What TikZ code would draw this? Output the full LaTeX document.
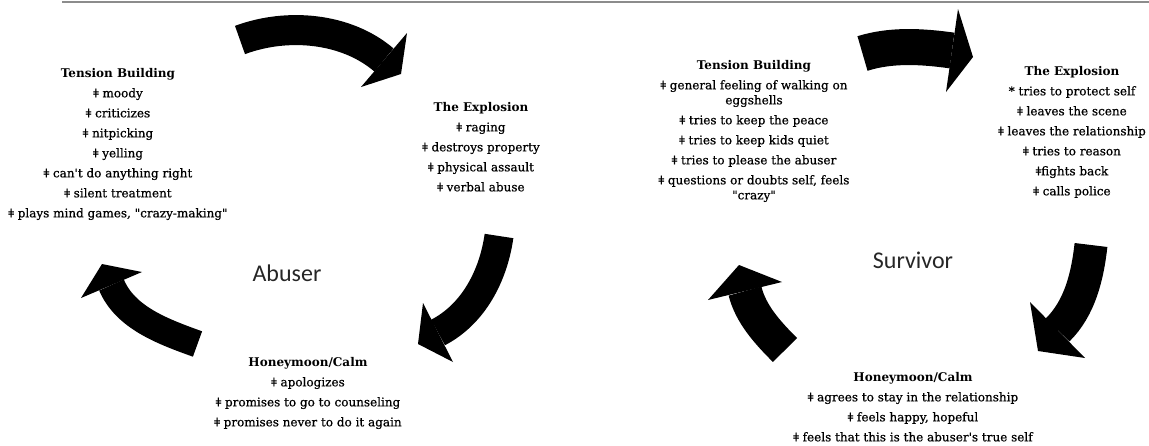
\documentclass[tikz,border=0pt]{standalone}
\usepackage{fontspec}
\setmainfont{DejaVu Serif}[UprightFeatures={FakeBold=0.6}]
\newfontfamily\labelfont{Carlito}
\newcommand{\blt}{ǂ }
\newcommand{\dq}{\textquotedbl}
\newcommand{\sq}{\textquotesingle}
\tikzset{
  stage/.style={align=center, inner sep=0pt, anchor=north, text=black,
    font=\fontsize{12}{15}\selectfont},
  cyclelabel/.style={inner sep=0pt, text=black!85, font=\labelfont\fontsize{24}{28}\selectfont},
  shaft/.style={line width=#1, line cap=butt, draw=black},
  head/.style={fill=black},
  topline/.style={draw=black!45, line width=2pt}
}
\begin{document}
\begin{tikzpicture}[x=1pt,y=-1pt]
\useasboundingbox (0,0) rectangle (1149,445);
\coordinate (lineL) at (62,1.5);
\coordinate (lineR) at (1149,1.5);
\draw[topline] (lineL) -- (lineR);

% ---------------- Abuser cycle ----------------
\node[stage] (abTB) at (118,68) {\textbf{Tension Building}\\[5pt]
  \blt moody\\[5pt] \blt criticizes\\[5pt] \blt nitpicking\\[5pt] \blt yelling\\[5pt]
  \blt can\sq t do anything right\\[5pt] \blt silent treatment\\[5pt]
  \blt plays mind games, \dq crazy-making\dq};
\node[stage] (abEX) at (481,102) {\textbf{The Explosion}\\[5pt]
  \blt raging\\[5pt] \blt destroys property\\[5pt] \blt physical assault\\[5pt] \blt verbal abuse};
\node[stage] (abHM) at (308,357) {\textbf{Honeymoon/Calm}\\[5pt]
  \blt apologizes\\[5pt] \blt promises to go to counseling\\[5pt] \blt promises never to do it again};
\node[cyclelabel] (abuser) at (287,273) {Abuser};

% arrow 1
\coordinate (a1s) at (240,40); \coordinate (a1b) at (384,60);
\coordinate (a1t) at (401,74); \coordinate (a1l) at (407,33); \coordinate (a1r) at (361,87);
\draw[shaft=30pt] (a1s) .. controls (287,22.5) and (346,27.5) .. (a1b);
\fill[head] (a1l) -- (a1t) -- (a1r) -- cycle;
% arrow 2
\coordinate (a2s) at (499,236); \coordinate (a2b) at (438,332.5);
\coordinate (a2t) at (418,344); \coordinate (a2l) at (423,303); \coordinate (a2r) at (453,362);
\draw[shaft=29pt] (a2s) .. controls (493.4,275.6) and (473.6,314) .. (a2b);
\fill[head] (a2l) -- (a2t) -- (a2r) -- cycle;
% arrow 3
\coordinate (a3s) at (197.5,344); \coordinate (a3b) at (111.5,285);
\coordinate (a3t) at (102,264); \coordinate (a3l) at (81,298); \coordinate (a3r) at (142,272);
\draw[shaft=27pt] (a3s) .. controls (163.5,331.7) and (125.5,318) .. (a3b);
\fill[head] (a3l) -- (a3t) -- (a3r) -- cycle;

% ---------------- Survivor cycle ----------------
\node[stage] (svTB) at (754,60) {\textbf{Tension Building}\\[5pt]
  \blt general feeling of walking on\\ eggshells\\[5pt]
  \blt tries to keep the peace\\[5pt] \blt tries to keep kids quiet\\[5pt]
  \blt tries to please the abuser\\[5pt]
  \blt questions or doubts self, feels\\ \dq crazy\dq};
\node[stage] (svEX) at (1072,66) {\textbf{The Explosion}\\[5pt]
  * tries to protect self\\[5pt] \blt leaves the scene\\[5pt] \blt leaves the relationship\\[5pt]
  \blt tries to reason\\[5pt] ǂfights back\\[5pt] \blt calls police};
\node[stage] (svHM) at (913,372) {\textbf{Honeymoon/Calm}\\[5pt]
  \blt agrees to stay in the relationship\\[5pt] \blt feels happy, hopeful\\[5pt]
  \blt feels that this is the abuser\sq s true self};
\node[cyclelabel] (survivor) at (913,260) {Survivor};

% arrow 4
\coordinate (a4s) at (862.5,53.5); \coordinate (a4b) at (952,50.5);
\coordinate (a4t) at (973,57); \coordinate (a4l) at (958,9); \coordinate (a4r) at (946,92);
\draw[shaft=36pt] (a4s) .. controls (891,44.5) and (922,46.3) .. (a4b);
\fill[head] (a4l) -- (a4t) -- (a4r) -- cycle;
% arrow 5
\coordinate (a5s) at (1091,245); \coordinate (a5b) at (1057.5,330);
\coordinate (a5t) at (1038,351); \coordinate (a5l) at (1030,302); \coordinate (a5r) at (1085,358);
\draw[shaft=33pt] (a5s) .. controls (1087.5,276) and (1080,308) .. (a5b);
\fill[head] (a5l) -- (a5t) -- (a5r) -- cycle;
% arrow 6
\coordinate (a6s) at (785,350); \coordinate (a6b) at (745,291);
\coordinate (a6t) at (739,265); \coordinate (a6l) at (708,300); \coordinate (a6r) at (782,282);
\draw[shaft=34pt] (a6s) .. controls (768,333) and (750.8,314.4) .. (a6b);
\fill[head] (a6l) -- (a6t) -- (a6r) -- cycle;
\end{tikzpicture}
\end{document}
